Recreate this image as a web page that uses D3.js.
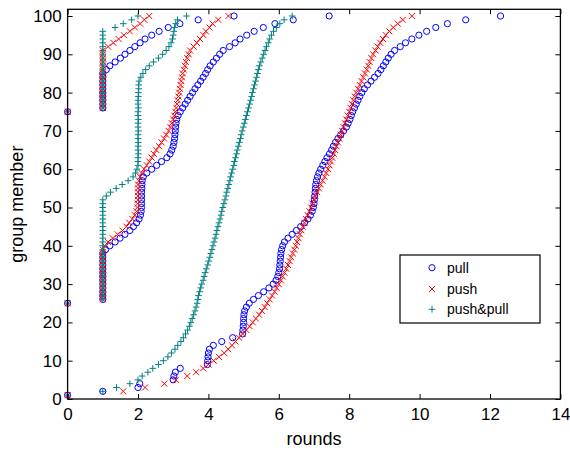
<!DOCTYPE html>
<html><head><meta charset="utf-8">
<script src="https://cdn.jsdelivr.net/npm/d3@7/dist/d3.min.js"></script>
<style>body{margin:0;background:#fff} svg{display:block} text{font-family:"Liberation Sans",Arial,Helvetica,sans-serif}</style>
</head><body><svg id="c" width="570" height="450"></svg>
<script>
// ---- data ----
const seriesNames = ["pull", "push", "push&pull"];
const seriesColors = ["#0000ff", "#ff0000", "#008080"];
// informed group members start at these counts (y of first point in each curve)
const curveStarts = [75, 25, 1];

// rounds (x) for group member y = start, start+1, ..., 100
const pullFrom75 = [0, 1,1,1,1,1,1,1,1,1,1, 1.1,1.2,1.35,1.5,1.63,1.77,1.91,2.06,2.2,2.39,2.6,2.86,3.19,3.71,4.73];
const pullFrom25 = [0, 1,1,1,1,1,1,1,1,1,1,1,1,1,
  1.08,1.2,1.35,1.49,1.63,1.77,1.87,1.96,2.03,2.07,
  2.09,2.1,2.1,2.1,2.1,2.1,2.11,2.11,
  2.12,2.15,2.25,2.39,2.53,2.67,2.82,2.91,2.96,3.0,
  3.02,3.04,3.05,3.06,3.07,3.08,3.1,3.14,3.2,3.27,
  3.34,3.41,3.48,3.55,3.62,3.7,3.78,3.85,3.92,3.98,
  4.05,4.14,4.23,4.32,4.42,4.6,4.76,4.9,5.09,5.3,
  5.56,5.89,6.41,7.43];
const pullFrom1 = [0,1.0,2.0,2.05,3.0,3.02,3.06,3.2,3.97,3.98,
  3.99,4.0,4.03,4.14,4.38,4.69,4.97,4.98,4.99,5.0,
  5.0,5.01,5.03,5.08,5.16,5.28,5.42,5.57,5.72,5.84,
  5.92,5.97,6.0,6.02,6.03,6.04,6.05,6.06,6.08,6.11,
  6.16,6.26,6.38,6.5,6.62,6.73,6.83,6.9,6.95,6.98,
  7.0,7.01,7.02,7.03,7.04,7.05,7.07,7.1,7.14,7.19,
  7.25,7.31,7.37,7.44,7.5,7.55,7.61,7.68,7.76,7.84,
  7.92,7.97,8.02,8.06,8.1,8.15,8.2,8.25,8.3,8.36,
  8.43,8.52,8.62,8.72,8.82,8.9,8.97,9.04,9.11,9.19,
  9.29,9.45,9.6,9.78,9.98,10.2,10.46,10.79,11.31,12.3];

const pushFrom75 = [0, 1,1,1,1,1,1,1,1,1,1,1,1,1,1,1,1, 1.15,1.3,1.45,1.6,1.77,1.91,2.06,2.18,2.32];
const pushFrom25 = [0, 1,1,1,1,1,1,1,1,1,1,1,1,1,1,
  1.05,1.15,1.28,1.42,1.56,1.67,1.75,1.84,1.91,
  1.96,1.98,1.99,2.0,2.0,2.0,2.0,2.0,
  2.03,2.06,2.1,2.17,2.25,2.32,2.39,2.45,2.52,2.6,
  2.67,2.74,2.8,2.87,2.92,2.96,3.0,3.03,3.06,3.09,
  3.11,3.13,3.15,3.17,3.19,3.21,3.23,3.25,3.27,3.3,
  3.33,3.36,3.4,3.44,3.48,3.58,3.67,3.76,3.86,3.93,
  4.03,4.12,4.28,4.57];
const pushFrom1 = [0,1.58,2.2,2.75,3.08,3.4,3.65,3.85,4.0,4.15,
  4.3,4.45,4.56,4.67,4.77,4.87,4.97,5.08,5.17,5.26,
  5.35,5.44,5.52,5.6,5.67,5.74,5.81,5.88,5.94,6.0,
  6.06,6.11,6.16,6.21,6.26,6.31,6.35,6.4,6.44,6.48,
  6.52,6.56,6.6,6.64,6.68,6.73,6.77,6.82,6.87,6.92,
  6.96,7.0,7.04,7.09,7.14,7.19,7.24,7.3,7.35,7.4,
  7.44,7.48,7.52,7.56,7.6,7.64,7.68,7.72,7.76,7.8,
  7.84,7.88,7.92,7.96,8.0,8.04,8.08,8.12,8.16,8.2,
  8.25,8.3,8.35,8.4,8.45,8.5,8.54,8.58,8.63,8.68,
  8.75,8.81,8.88,8.96,9.04,9.14,9.25,9.38,9.52,9.78];

const pushPullFrom75 = [0, 1,1,1,1,1,1,1,1,1,1,1,1,1,1,1,1,1,1,1,1,1, 1.35,1.58,1.82,2.0];
const pushPullFrom25 = [0, 1,1,1,1,1,1,1,1,1,1,1,1,1,1,1,1,1,1,1,1,1,1,1,1,1,1,1,
  1.1,1.22,1.38,1.55,1.72,1.86,1.93,1.97,
  2.0,2.0,2.0,2.01,2.0,2.0,2.01,2.0,2.0,2.01,2.0,2.0,2.01,2.0,2.0,2.01,2.0,2.0,2.01,2.01,2.02,2.02,
  2.03,2.08,2.14,2.22,2.32,2.44,2.58,2.7,2.8,2.88,2.94,2.98,3.0,3.02,3.04,3.07,3.12,3.38];
const pushPullFrom1 = [0,1.0,1.39,1.77,2.0,2.12,2.28,2.42,2.58,2.72,
  2.85,2.95,3.05,3.13,3.22,3.29,3.35,3.41,3.46,3.5,
  3.54,3.58,3.62,3.65,3.68,3.7,3.72,3.75,3.78,3.81,
  3.85,3.88,3.91,3.94,3.98,4.01,4.04,4.07,4.1,4.13,
  4.16,4.19,4.22,4.24,4.27,4.3,4.33,4.36,4.38,4.41,
  4.44,4.47,4.5,4.52,4.55,4.58,4.61,4.63,4.66,4.69,
  4.72,4.74,4.77,4.8,4.82,4.85,4.88,4.91,4.93,4.96,
  4.99,5.02,5.05,5.08,5.11,5.14,5.17,5.2,5.23,5.25,
  5.28,5.31,5.34,5.37,5.39,5.42,5.45,5.49,5.53,5.57,
  5.61,5.65,5.7,5.74,5.79,5.85,5.93,6.03,6.15,6.38,6.55].slice(0,100);

const xTicks = [0, 2, 4, 6, 8, 10, 12, 14];
const yTicks = [0, 10, 20, 30, 40, 50, 60, 70, 80, 90, 100];
const xLabel = "rounds";
const yLabel = "group member";

// ---- chart ----
const svg = d3.select("#c");
const L = 67.6, R = 560.4, T = 9.3, B = 399;
const x = d3.scaleLinear().domain([0, 14]).range([L, R]);
const y = d3.scaleLinear().domain([0, 101.75]).range([B, T]);

const curvesBySeries = [
  [pullFrom75, pullFrom25, pullFrom1],
  [pushFrom75, pushFrom25, pushFrom1],
  [pushPullFrom75, pushPullFrom25, pushPullFrom1]
];

function pts(curves) {
  const out = [];
  curves.forEach((c, ci) => c.forEach((v, i) => out.push([v, curveStarts[ci] + i])));
  return out;
}

const markerPath = [
  null,
  "M-3,-3L3,3M-3,3L3,-3",
  "M-3.3,0L3.3,0M0,-3.3L0,3.3"
];

function drawMarker(g, s, px, py) {
  if (s === 0) {
    g.append("circle").attr("cx", px).attr("cy", py).attr("r", 3.1)
      .attr("fill", "none").attr("stroke", seriesColors[0]).attr("stroke-width", 1);
  } else {
    g.append("path").attr("transform", `translate(${px},${py})`).attr("d", markerPath[s])
      .attr("fill", "none").attr("stroke", seriesColors[s]).attr("stroke-width", 1);
  }
}

const gm = svg.append("g");
curvesBySeries.forEach((curves, s) => {
  const g = gm.append("g");
  pts(curves).forEach(p => drawMarker(g, s, x(p[0]), y(p[1])));
});

// axes with inward ticks
const fs = "17px";
const ax = svg.append("g").attr("transform", `translate(0,${B})`)
  .call(d3.axisBottom(x).tickValues(xTicks).tickSize(-5).tickPadding(9).tickFormat(d3.format("d")));
const axT = svg.append("g").attr("transform", `translate(0,${T})`)
  .call(d3.axisTop(x).tickValues(xTicks).tickSize(-5).tickFormat(""));
const ay = svg.append("g").attr("transform", `translate(${L},0)`)
  .call(d3.axisLeft(y).tickValues(yTicks).tickSize(-5).tickPadding(6).tickFormat(d3.format("d")));
const ayR = svg.append("g").attr("transform", `translate(${R},0)`)
  .call(d3.axisRight(y).tickValues(yTicks).tickSize(-5).tickFormat(""));
[ax, axT, ay, ayR].forEach(a => {
  a.select(".domain").remove();
  a.selectAll(".tick line").attr("stroke", "#000").attr("stroke-width", 1);
  a.selectAll(".tick text").attr("font-size", fs).attr("fill", "#000")
    .attr("font-family", '"Liberation Sans",Arial,sans-serif');
});

svg.append("rect").attr("x", L).attr("y", T).attr("width", R - L).attr("height", B - T)
  .attr("fill", "none").attr("stroke", "#000").attr("stroke-width", 1.3);

svg.append("text").attr("x", (L + R) / 2).attr("y", 445).attr("text-anchor", "middle")
  .attr("font-size", "18px").attr("fill", "#000").text(xLabel);
svg.append("text").attr("transform", `translate(23,${(T + B) / 2}) rotate(-90)`)
  .attr("text-anchor", "middle").attr("font-size", "18px").attr("fill", "#000").text(yLabel);

// legend
const lg = svg.append("g");
lg.append("rect").attr("x", 400).attr("y", 255).attr("width", 140).attr("height", 68)
  .attr("fill", "#fff").attr("stroke", "#000").attr("stroke-width", 1.2);
const legendY = [267.7, 289, 309.3];
seriesNames.forEach((n, s) => {
  drawMarker(lg, s, 432, legendY[s]);
  lg.append("text").attr("x", 447).attr("y", legendY[s] + 5).attr("font-size", "14px")
    .attr("fill", "#000").text(n);
});
</script></body></html>
